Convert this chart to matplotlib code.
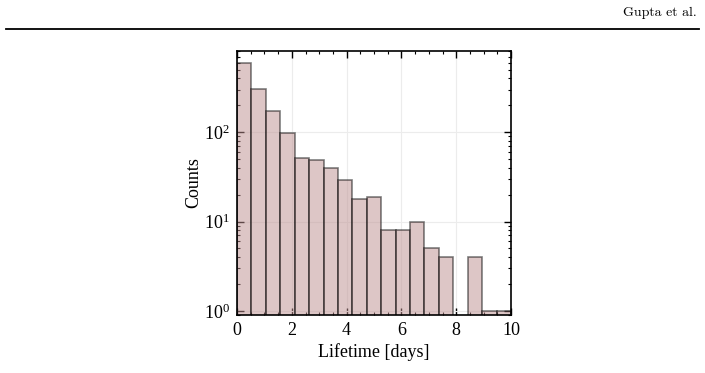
import numpy as np
import matplotlib.pyplot as plt
from matplotlib.ticker import MultipleLocator

# histogram: 19 equal bins from 0 to 10 days
bin_edges = np.linspace(0.0, 10.0, 20)
counts = [590, 305, 172, 99, 51, 49, 40, 29, 18, 19, 8, 8, 10, 5, 4, 0, 4, 1, 1]

plt.rcParams['font.family'] = 'serif'
plt.rcParams['font.serif'] = ['Liberation Serif', 'DejaVu Serif']
plt.rcParams['mathtext.fontset'] = 'stix'

fig = plt.figure(figsize=(7.05, 3.73), dpi=100)

# page header
fig.text(0.989, 1-13/373, "Gupta et al.", ha="right", va="center", fontsize=10, family="cmr10")
fig.add_artist(plt.Line2D([6/705, 699/705], [1-28.7/373, 1-28.7/373], color="black", lw=1.3))

ax = fig.add_axes([237/705, 1-315/373, 274/705, 264/373])
ax.hist(bin_edges[:-1], bins=bin_edges, weights=counts,
        facecolor=(0.74, 0.56, 0.56, 0.5), edgecolor=(0, 0, 0, 0.5), lw=1.2)
ax.set_yscale("log")
ax.set_xlim(0, 10)
ax.set_ylim(0.9, 810)
ax.xaxis.set_major_locator(MultipleLocator(2))
ax.xaxis.set_minor_locator(MultipleLocator(0.5))
ax.grid(True, which="major", color="#ececec", lw=0.8)
ax.set_axisbelow(True)
ax.tick_params(which="both", direction="in", top=True, right=True, labelsize=13)
ax.tick_params(which="major", length=5, width=1, pad=5)
ax.tick_params(which="minor", length=2.5, width=0.8)
for s in ax.spines.values():
    s.set_linewidth(1.2)
ax.set_xlabel("Lifetime [days]", fontsize=13, labelpad=3)
ax.set_ylabel("Counts", fontsize=13, labelpad=1)

fig.savefig("out.png", dpi=100)
